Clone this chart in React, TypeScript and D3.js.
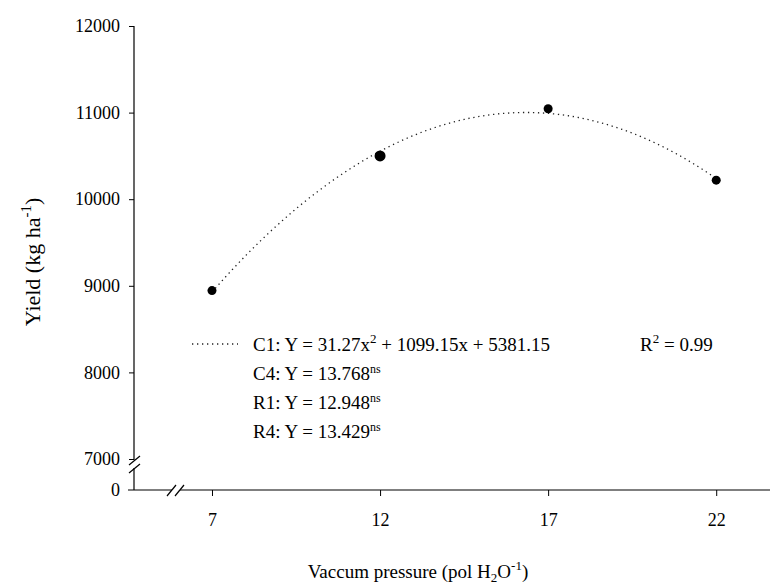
import React, { useRef, useEffect } from 'react';
import * as d3 from 'd3';

// data
const pressure = [7, 12, 17, 22];
const yieldC1 = [8945, 10500, 11045, 10220];
const pointSize = [4.5, 5.5, 4.5, 4.5];
const xTicks = [7, 12, 17, 22];
const yTicks = [7000, 8000, 9000, 10000, 11000, 12000];

// least squares quadratic fit (a + b x + c x^2)
const fitQuadratic = (xs, ys) => {
  const s = (p, q) => d3.sum(xs, (x, i) => Math.pow(x, p) * (q ? ys[i] : 1));
  const m = [
    [s(0), s(1), s(2), s(0, 1)],
    [s(1), s(2), s(3), s(1, 1)],
    [s(2), s(3), s(4), s(2, 1)],
  ];
  for (let i = 0; i < 3; i++) {
    for (let k = i + 1; k < 3; k++) {
      const f = m[k][i] / m[i][i];
      for (let j = i; j < 4; j++) m[k][j] -= f * m[i][j];
    }
  }
  const r = [0, 0, 0];
  for (let i = 2; i >= 0; i--) {
    let v = m[i][3];
    for (let j = i + 1; j < 3; j++) v -= m[i][j] * r[j];
    r[i] = v / m[i][i];
  }
  return (x) => r[0] + r[1] * x + r[2] * x * x;
};

const App = () => {
  const svgRef = useRef<SVGSVGElement>(null);

  useEffect(() => {
    if (!svgRef.current) return;
    const svg = d3.select(svgRef.current);
    svg.selectAll('*').remove();

    const font = '"Liberation Serif", "Times New Roman", serif';
    const x = d3.scaleLinear().domain([4.68, 23.6]).range([134, 770]);
    const y = d3.scaleLinear().domain([7000, 12000]).range([459, 26]);
    const yZero = 490;
    const x0 = 134;

    // y axis
    const gy = svg.append('g').attr('transform', `translate(${x0},0)`)
      .call(d3.axisLeft(y).tickValues(yTicks).tickSize(5).tickSizeOuter(0).tickFormat(d3.format('d')));
    gy.select('.domain').remove();
    gy.selectAll('line').attr('stroke', '#000');
    gy.selectAll('text').attr('font-family', font).attr('font-size', 18).attr('fill', '#000').attr('x', -14);

    // zero tick under the break
    svg.append('text').attr('x', x0 - 14).attr('y', yZero).attr('dy', '0.32em')
      .attr('text-anchor', 'end').attr('font-family', font).attr('font-size', 18).text('0');

    // x axis
    const gx = svg.append('g').attr('transform', `translate(0,${yZero})`)
      .call(d3.axisBottom(x).tickValues(xTicks).tickSize(6).tickSizeOuter(0));
    gx.select('.domain').remove();
    gx.selectAll('line').attr('stroke', '#000');
    gx.selectAll('text').attr('font-family', font).attr('font-size', 18).attr('fill', '#000').attr('y', 23);

    // axis lines with breaks
    const axisLines = [
      [x0, 26, x0, 460], [x0, 468, x0, yZero],
      [x0 - 6, yZero, 172, yZero], [180, yZero, 770, yZero],
      [129, 465, 140, 456], [129, 473, 140, 464],
      [167, 496, 176, 485], [175, 496, 184, 485],
    ];
    svg.append('g').selectAll('line').data(axisLines).enter().append('line')
      .attr('x1', d => d[0]).attr('y1', d => d[1]).attr('x2', d => d[2]).attr('y2', d => d[3])
      .attr('stroke', '#000').attr('stroke-width', 1.2);

    // fitted curve
    const fit = fitQuadratic(pressure, yieldC1);
    const xs = d3.range(pressure[0], pressure[pressure.length - 1] + 0.001, 0.1);
    svg.append('path').datum(xs)
      .attr('d', d3.line().x(d => x(d)).y(d => y(fit(d))))
      .attr('fill', 'none').attr('stroke', '#222').attr('stroke-width', 1.3)
      .attr('stroke-dasharray', '1.3,3.7');

    // points
    svg.append('g').selectAll('circle').data(pressure).enter().append('circle')
      .attr('cx', d => x(d)).attr('cy', (d, i) => y(yieldC1[i])).attr('r', (d, i) => pointSize[i])
      .attr('fill', '#000');

    // legend
    svg.append('line').attr('x1', 192).attr('x2', 238).attr('y1', 344).attr('y2', 344)
      .attr('stroke', '#222').attr('stroke-width', 1.3).attr('stroke-dasharray', '1.3,3.7');

    const lg = svg.append('g').attr('font-family', font).attr('font-size', 19).attr('fill', '#000');
    const t1 = lg.append('text').attr('x', 253).attr('y', 351);
    t1.append('tspan').text('C1: Y = 31.27x');
    t1.append('tspan').attr('dy', -8).attr('font-size', 13).text('2');
    t1.append('tspan').attr('dy', 8).text(' + 1099.15x + 5381.15');
    const r2 = lg.append('text').attr('x', 640).attr('y', 351);
    r2.append('tspan').text('R');
    r2.append('tspan').attr('dy', -8).attr('font-size', 13).text('2');
    r2.append('tspan').attr('dy', 8).text(' = 0.99');
    [['C4', '13.768'], ['R1', '12.948'], ['R4', '13.429']].forEach((d, i) => {
      const t = lg.append('text').attr('x', 253).attr('y', 380 + i * 29);
      t.append('tspan').text(`${d[0]}: Y = ${d[1]}`);
      t.append('tspan').attr('dy', -7).attr('font-size', 12).text('ns');
    });

    // axis titles
    const xt = svg.append('text').attr('x', 418).attr('y', 578).attr('text-anchor', 'middle')
      .attr('font-family', font).attr('font-size', 19);
    xt.append('tspan').text('Vaccum pressure (pol H');
    xt.append('tspan').attr('dy', 4).attr('font-size', 13).text('2');
    xt.append('tspan').attr('dy', -4).text('O');
    xt.append('tspan').attr('dy', -8).attr('font-size', 13).text('-1');
    xt.append('tspan').attr('dy', 8).text(')');

    const yt = svg.append('text').attr('transform', 'translate(40,262) rotate(-90)')
      .attr('text-anchor', 'middle').attr('font-family', font).attr('font-size', 22);
    yt.append('tspan').text('Yield (kg ha');
    yt.append('tspan').attr('dy', -9).attr('font-size', 15).text('-1');
    yt.append('tspan').attr('dy', 9).text(')');
  }, []);

  return (
    <svg ref={svgRef} width={774} height={586}
      style={{ position: 'absolute', left: 0, top: 0, background: 'white' }}></svg>
  );
};

export default App;
